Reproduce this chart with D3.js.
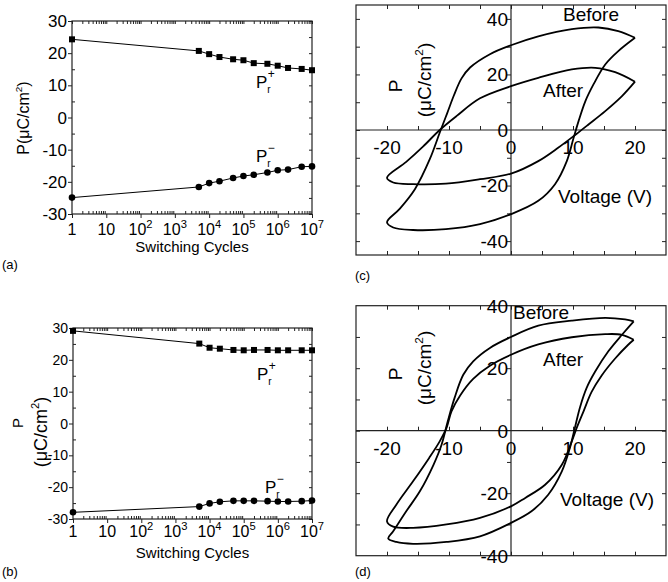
<!DOCTYPE html>
<html>
<head>
<meta charset="utf-8">
<script src="https://cdn.jsdelivr.net/npm/d3@7"></script>
<style>
  body { margin: 0; background: #fff; }
  svg { display: block; font-family: "Liberation Sans", Arial, sans-serif; }
</style>
</head>
<body>
<svg id="fig" width="668" height="582"></svg>
<script>
'use strict';

// switching cycles (x of panels a and b)
const cycles = [1, 5e3, 1e4, 2e4, 5e4, 1e5, 2e5, 5e5, 1e6, 2e6, 5e6, 1e7];

// remanent polarisation, panel (a)
const prPlusA = [24.3, 20.7, 19.7, 18.8, 18.1, 17.8, 16.9, 16.7, 16.1, 15.4, 15.1, 14.7];
const prMinusA = [-24.9, -21.6, -20.4, -19.8, -18.8, -18.2, -17.8, -17.1, -16.4, -16.2, -15.3, -15.2];

// remanent polarisation, panel (b)
const prPlusB = [29.1, 25.1, 23.8, 23.5, 23.1, 23.0, 23.1, 23.1, 23.0, 23.0, 23.0, 23.0];
const prMinusB = [-27.9, -26.1, -25.1, -24.6, -24.3, -24.3, -24.3, -24.4, -24.5, -24.5, -24.4, -24.2];

// hysteresis loops [voltage, P] -- descending branch then ascending branch
const loopCBefore = [[20, 33.2], [17.3, 35.6], [14.1, 36.9], [9.8, 36.3], [4.4, 33.7], [0, 30.5],
  [-3.4, 27.3], [-6.6, 22.5], [-8, 18.5], [-9.2, 12.5], [-10.3, 6], [-11.5, -1], [-13.1, -10.5],
  [-15.5, -21.3], [-18, -28.5], [-20, -33.2], [-19, -35.1], [-15.8, -36], [-10.5, -35.7],
  [-5, -33.9], [0, -30.3], [4.4, -25.5], [7.1, -19.5], [9, -11.2], [10.1, -2.8],
  [10.9, 3.2], [12, 10.4], [13.3, 16.4], [15.2, 23.6], [17.3, 28.4], [20, 33.2]];
const loopCAfter = [[20, 17.4], [16.8, 20.8], [13.6, 22.4], [9.8, 21.8], [4.4, 18.8], [0, 15.8],
  [-5, 11.4], [-8.8, 5], [-11.5, 0], [-14.2, -6], [-16.9, -11.5], [-20, -17.2],
  [-19, -18.9], [-15.8, -19.5], [-10.5, -19.3], [-5, -17.7], [0, -15.7], [4.4, -11.2],
  [7.6, -6.4], [10.5, -1.5], [12.5, 2], [15.2, 6.8], [17.9, 12.2], [20, 17.4]];
const loopDBefore = [[19.8, 35], [18.4, 35.6], [15.2, 36.1], [9.8, 35.2], [4.4, 33.6], [0, 30],
  [-3.4, 26.5], [-6.1, 22.2], [-7.7, 17.9], [-9.1, 10.5], [-10.2, 3], [-11.2, -4.5],
  [-12.5, -10.9], [-14.7, -19.4], [-16.9, -25.8], [-19, -32.2], [-19.8, -34.5],
  [-18.5, -35.6], [-15.8, -36.2], [-10.4, -35.6], [-5, -33.8], [0, -29.5], [3.3, -25.8],
  [6, -20.5], [8.2, -13], [9.5, -5.5], [10.3, 0.9], [11.1, 7.3], [12.2, 13.7],
  [13.6, 19], [15.7, 25.4], [17.9, 30.7], [19.8, 35]];
const loopDAfter = [[19.8, 29.1], [17.9, 30.7], [15.2, 30.9], [9.8, 29.9], [4.4, 27.6], [0, 24.3],
  [-3.4, 20.8], [-6.1, 16.6], [-8.2, 11.3], [-9.6, 6.2], [-10.4, 0.9], [-11.5, -3.4],
  [-13.2, -8.7], [-15.8, -16.2], [-18.5, -23.7], [-20, -29], [-19, -30.7], [-15.8, -31.1],
  [-10.4, -30], [-5, -27.9], [0, -24.2], [2.3, -21.5], [5.5, -17.3], [8.2, -10.9],
  [9.8, -3.4], [10.6, 0.9], [11.7, 6.2], [13, 12.4], [14.6, 17.6], [16.8, 23.1],
  [18.9, 27.5], [19.8, 29.1]];

// tick values
const decadeTicks = [1, 10, 1e2, 1e3, 1e4, 1e5, 1e6, 1e7];
const polTicks = [-30, -20, -10, 0, 10, 20, 30];
const polMinor = [-25, -15, -5, 5, 15, 25];
const voltLabels = [-20, -10, 0, 10, 20];
const voltTicks = [-20, -15, -10, -5, 0, 5, 10, 15, 20];
const loopLabels = [-40, -20, 0, 20, 40];
const loopTicks = [-40, -30, -20, -10, 0, 10, 20, 30, 40];

const svg = d3.select('#fig');
const ink = '#222';

function clean(g) {
  g.select('.domain').remove();
  g.selectAll('line').attr('stroke', ink);
  g.selectAll('text').remove();
}

// P(uC/cm2) style label: rotated text with superscript 2
function unitLabel(g, x, y, size, prefix) {
  const t = g.append('text')
    .attr('transform', `translate(${x},${y}) rotate(-90)`)
    .attr('text-anchor', 'middle')
    .attr('font-size', size);
  t.append('tspan').text(prefix + '(\u03bcC/cm');
  t.append('tspan').attr('font-size', size * 0.62).attr('dy', -size * 0.42).text('2');
  t.append('tspan').attr('dy', size * 0.42).text(')');
}

function prLabel(g, x, y, sign) {
  const t = g.append('text').attr('x', x).attr('y', y).attr('font-size', 17);
  t.append('tspan').text('P');
  t.append('tspan').attr('font-size', 10).attr('dy', 5).text('r');
  t.append('tspan').attr('font-size', 12).attr('dx', -3).attr('dy', -15).text(sign);
}

function drawCycling(o) {
  const g = svg.append('g');
  const x = d3.scaleLog().domain([1, 1e7]).range([o.left, o.right]);
  const y = d3.scaleLinear().domain([-30, 30]).range([o.bottom, o.top]);
  const minor = d3.range(0, 7).flatMap(e => d3.range(2, 10).map(k => k * Math.pow(10, e)));

  g.append('g').attr('transform', `translate(0,${o.bottom})`)
    .call(d3.axisBottom(x).tickValues(decadeTicks).tickSize(4)).call(clean);
  g.append('g').attr('transform', `translate(0,${o.bottom})`)
    .call(d3.axisBottom(x).tickValues(minor).tickSize(-3)).call(clean);
  g.append('g').attr('transform', `translate(0,${o.top})`)
    .call(d3.axisTop(x).tickValues(decadeTicks.concat(minor)).tickSize(-3)).call(clean);
  g.append('g').attr('transform', `translate(${o.left},0)`)
    .call(d3.axisLeft(y).tickValues(polTicks).tickSize(4)).call(clean);
  g.append('g').attr('transform', `translate(${o.left},0)`)
    .call(d3.axisLeft(y).tickValues(polMinor).tickSize(-3)).call(clean);
  g.append('g').attr('transform', `translate(${o.right},0)`)
    .call(d3.axisRight(y).tickValues(polTicks.concat(polMinor)).tickSize(-3)).call(clean);

  g.append('rect')
    .attr('x', o.left).attr('y', o.top)
    .attr('width', o.right - o.left).attr('height', o.bottom - o.top)
    .attr('fill', 'none').attr('stroke', ink).attr('stroke-width', 1.2);

  // tick labels
  g.selectAll('.ylab').data(polTicks).enter().append('text')
    .attr('x', o.left - 5).attr('y', d => y(d)).attr('dy', '0.36em')
    .attr('text-anchor', 'end').attr('font-size', o.yFont)
    .text(d => d);
  const xl = g.selectAll('.xlab').data(decadeTicks).enter().append('text')
    .attr('x', d => x(d)).attr('y', o.xBase)
    .attr('text-anchor', 'middle').attr('font-size', o.xFont);
  xl.each(function (d) {
    const e = Math.round(Math.log10(d));
    const t = d3.select(this);
    if (e < 2) { t.text(d); return; }
    t.append('tspan').text('10');
    t.append('tspan').attr('font-size', o.xFont * 0.7).attr('dy', -o.xFont * 0.42).text(e);
  });
  g.append('text').attr('x', (o.left + o.right) / 2).attr('y', o.titleBase)
    .attr('text-anchor', 'middle').attr('font-size', 15).text('Switching Cycles');

  // series
  const line = d3.line().x((d, i) => x(cycles[i])).y(d => y(d));
  [o.plus, o.minus].forEach(s => {
    g.append('path').attr('d', line(s)).attr('fill', 'none')
      .attr('stroke', '#000').attr('stroke-width', 1);
  });
  g.selectAll('.sq').data(o.plus).enter().append('rect')
    .attr('x', (d, i) => x(cycles[i]) - 3).attr('y', d => y(d) - 3)
    .attr('width', 6).attr('height', 6).attr('fill', '#000');
  g.selectAll('.ci').data(o.minus).enter().append('circle')
    .attr('cx', (d, i) => x(cycles[i])).attr('cy', d => y(d))
    .attr('r', 3.3).attr('fill', '#000');

  prLabel(g, o.plusLab[0], o.plusLab[1], '+');
  prLabel(g, o.minusLab[0], o.minusLab[1], '\u2212');
  g.append('text').attr('x', 2).attr('y', o.tagBase).attr('font-size', 13).text(o.tag);
  return g;
}

function drawLoops(o) {
  const g = svg.append('g');
  const x = d3.scaleLinear().domain([-25, 25]).range([356, 666]);
  const y = d3.scaleLinear().domain(o.yDomain).range([o.bottom, o.top]);

  // frame ticks (inward)
  g.append('g').attr('transform', `translate(0,${o.bottom})`)
    .call(d3.axisBottom(x).tickValues(voltTicks).tickSize(-4)).call(clean);
  g.append('g').attr('transform', `translate(0,${o.top})`)
    .call(d3.axisTop(x).tickValues(voltTicks).tickSize(-4)).call(clean);
  const inFrame = loopTicks.filter(d => y(d) > o.top + 1 && y(d) < o.bottom - 1);
  g.append('g').attr('transform', 'translate(356,0)')
    .call(d3.axisLeft(y).tickValues(inFrame).tickSize(-4)).call(clean);
  g.append('g').attr('transform', 'translate(666,0)')
    .call(d3.axisRight(y).tickValues(inFrame).tickSize(-4)).call(clean);

  g.append('rect')
    .attr('x', 356).attr('y', o.top).attr('width', 310).attr('height', o.bottom - o.top)
    .attr('fill', 'none').attr('stroke', ink).attr('stroke-width', 1.2);

  // axes through the origin
  g.append('line').attr('x1', 356).attr('x2', 666).attr('y1', y(0)).attr('y2', y(0))
    .attr('stroke', ink).attr('stroke-width', 1.2);
  g.append('line').attr('x1', x(0)).attr('x2', x(0)).attr('y1', o.top).attr('y2', o.bottom)
    .attr('stroke', ink).attr('stroke-width', 1.2);
  g.append('g').attr('transform', `translate(0,${y(0)})`)
    .call(d3.axisBottom(x).tickValues(voltTicks.filter(d => d !== 0)).tickSize(-4)).call(clean);
  g.append('g').attr('transform', `translate(${x(0)},0)`)
    .call(d3.axisLeft(y).tickValues(inFrame.filter(d => d !== 0)).tickSize(4)).call(clean);

  g.selectAll('.xl').data(voltLabels).enter().append('text')
    .attr('x', d => x(d)).attr('y', y(0) + 24)
    .attr('text-anchor', 'middle').attr('font-size', 19)
    .text(d => d);
  g.selectAll('.yl').data(loopLabels).enter().append('text')
    .attr('x', x(0) - 3).attr('y', d => y(d)).attr('dy', '0.36em')
    .attr('text-anchor', 'end').attr('font-size', 19)
    .text(d => d);

  const line = d3.line().curve(d3.curveCatmullRom.alpha(0.5))
    .x(d => x(d[0])).y(d => y(d[1]));
  [o.before, o.after].forEach(s => {
    g.append('path').attr('d', line(s)).attr('fill', 'none')
      .attr('stroke', '#000').attr('stroke-width', 1.8);
  });

  g.append('text').attr('x', o.beforeLab[0]).attr('y', o.beforeLab[1]).attr('font-size', 19).text('Before');
  g.append('text').attr('x', o.afterLab[0]).attr('y', o.afterLab[1]).attr('font-size', 19).text('After');
  g.append('text').attr('x', o.voltLab[0]).attr('y', o.voltLab[1]).attr('font-size', 19).text('Voltage (V)');

  g.append('text').attr('transform', `translate(402,${o.labY}) rotate(-90)`)
    .attr('text-anchor', 'middle').attr('font-size', 19).text('P');
  unitLabel(g, 431, o.labY - 6, 19, '');
  g.append('text').attr('x', 355).attr('y', o.tagBase).attr('font-size', 13).text(o.tag);
}

// (a)
const ga = drawCycling({
  left: 72, right: 312, top: 21, bottom: 214,
  plus: prPlusA, minus: prMinusA, yFont: 17, xFont: 16,
  xBase: 235, titleBase: 252, tagBase: 269, tag: '(a)',
  plusLab: [256, 88], minusLab: [256, 162]
});
unitLabel(ga, 29, 118, 16, 'P');

// (b)
const gb = drawCycling({
  left: 73, right: 312, top: 328, bottom: 519,
  plus: prPlusB, minus: prMinusB, yFont: 14, xFont: 16,
  xBase: 537, titleBase: 558, tagBase: 576, tag: '(b)',
  plusLab: [257, 380], minusLab: [265, 493]
});
gb.append('text').attr('transform', 'translate(23,423) rotate(-90)')
  .attr('text-anchor', 'middle').attr('font-size', 15).text('P');
unitLabel(gb, 47, 432, 18, '');

// (c)
drawLoops({
  yDomain: [-45, 45], top: 5, bottom: 255,
  before: loopCBefore, after: loopCAfter,
  beforeLab: [563, 21], afterLab: [543, 97], voltLab: [558, 203],
  labY: 86, tagBase: 280, tag: '(c)'
});

// (d)
drawLoops({
  yDomain: [-40, 40], top: 305.7, bottom: 555.7,
  before: loopDBefore, after: loopDAfter,
  beforeLab: [513, 319], afterLab: [543, 366], voltLab: [560, 506],
  labY: 374, tagBase: 576, tag: '(d)'
});
</script>
</body>
</html>
